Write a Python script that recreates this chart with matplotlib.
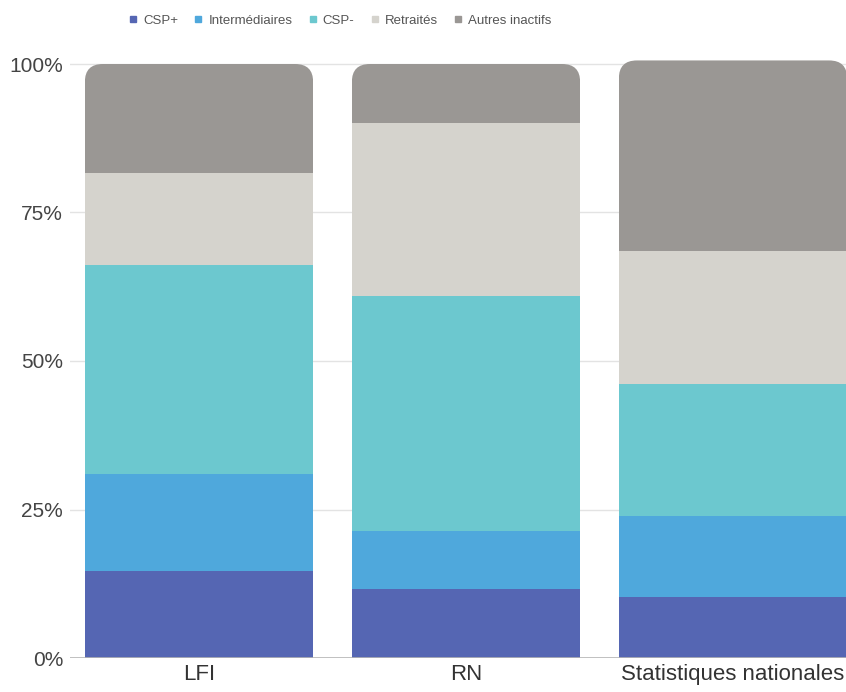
import matplotlib
matplotlib.use("Agg")
import matplotlib.pyplot as plt
from matplotlib.patches import FancyBboxPatch
from matplotlib.lines import Line2D
import numpy as np

plt.rcParams['font.family'] = ['Liberation Sans', 'DejaVu Sans']

categories = ["LFI", "RN", "Statistiques nationales"]
series_names = ["CSP+", "Intermédiaires", "CSP-", "Retraités", "Autres inactifs"]
csp_plus = [14.6, 11.6, 10.2]
intermediaires = [16.3, 9.8, 13.7]
csp_moins = [35.3, 39.6, 22.2]
retraites = [15.5, 29.0, 22.5]
autres = [18.3, 10.0, 32.0]
series_values = [csp_plus, intermediaires, csp_moins, retraites, autres]
colors = ["#5566B3", "#4FA8DC", "#6CC8CF", "#D5D3CD", "#9A9794"]
ytick_labels = ["0%", "25%", "50%", "75%", "100%"]

W, H = 846, 692
fig = plt.figure(figsize=(W / 100, H / 100), dpi=100)
ax_left, ax_right = 70, 846
ax_bottom, ax_top = 658, 58
ax = fig.add_axes([ax_left / W, (H - ax_bottom) / H,
                   (ax_right - ax_left) / W, (ax_bottom - ax_top) / H])

x = np.arange(len(categories))
width = 0.855
px_per_x = 267.0
ax.set_xlim(-(199 - ax_left) / px_per_x, 2 + (ax_right - 733) / px_per_x)
ymax = (ax_bottom - ax_top) / 594 * 100
ax.set_ylim(0, ymax)

# grid
for yv in [25, 50, 75, 100]:
    ax.axhline(yv, color="#E3E3E3", lw=1, zorder=0)
ax.axhline(0, color="#B5B5B5", lw=1.2, zorder=3)

totals = np.sum(np.array(series_values), axis=0)
px_per_y = 594 / 100.0
aspect = px_per_x / px_per_y
radius_px = 18

bottom = np.zeros(len(categories))
all_bars = []
for vals, col in zip(series_values, colors):
    bars = ax.bar(x, vals, width, bottom=bottom, color=col, zorder=2, linewidth=0)
    all_bars.append(bars)
    bottom = bottom + np.array(vals)

for i in range(len(categories)):
    clip = FancyBboxPatch((x[i] - width / 2, -20), width, totals[i] + 20,
                          boxstyle=f"round,pad=0,rounding_size={radius_px / px_per_x}",
                          mutation_aspect=aspect, transform=ax.transData,
                          facecolor="none", edgecolor="none")
    ax.add_patch(clip)
    clip.set_visible(False)
    for bars in all_bars:
        bars[i].set_clip_path(clip)

ax.set_yticks([0, 25, 50, 75, 100])
ax.set_yticklabels(ytick_labels, fontsize=15, color="#444444")
ax.set_xticks(x)
ax.set_xticklabels(categories, fontsize=16, color="#333333")
ax.tick_params(axis='both', length=0)
ax.tick_params(axis='y', pad=5)
ax.tick_params(axis='x', pad=4)
for s in ax.spines.values():
    s.set_visible(False)

handles = [Line2D([0], [0], marker='s', linestyle='none', markersize=5,
                  markerfacecolor=c, markeredgecolor=c) for c in colors]
fig.legend(handles, series_names, loc='center', ncol=5,
           bbox_to_anchor=(340 / W, 1 - 21 / H), frameon=False,
           fontsize=9.5, handlelength=0.7, handletextpad=0.4, columnspacing=1.2,
           labelcolor="#555555")

fig.savefig("out.png", dpi=100)
